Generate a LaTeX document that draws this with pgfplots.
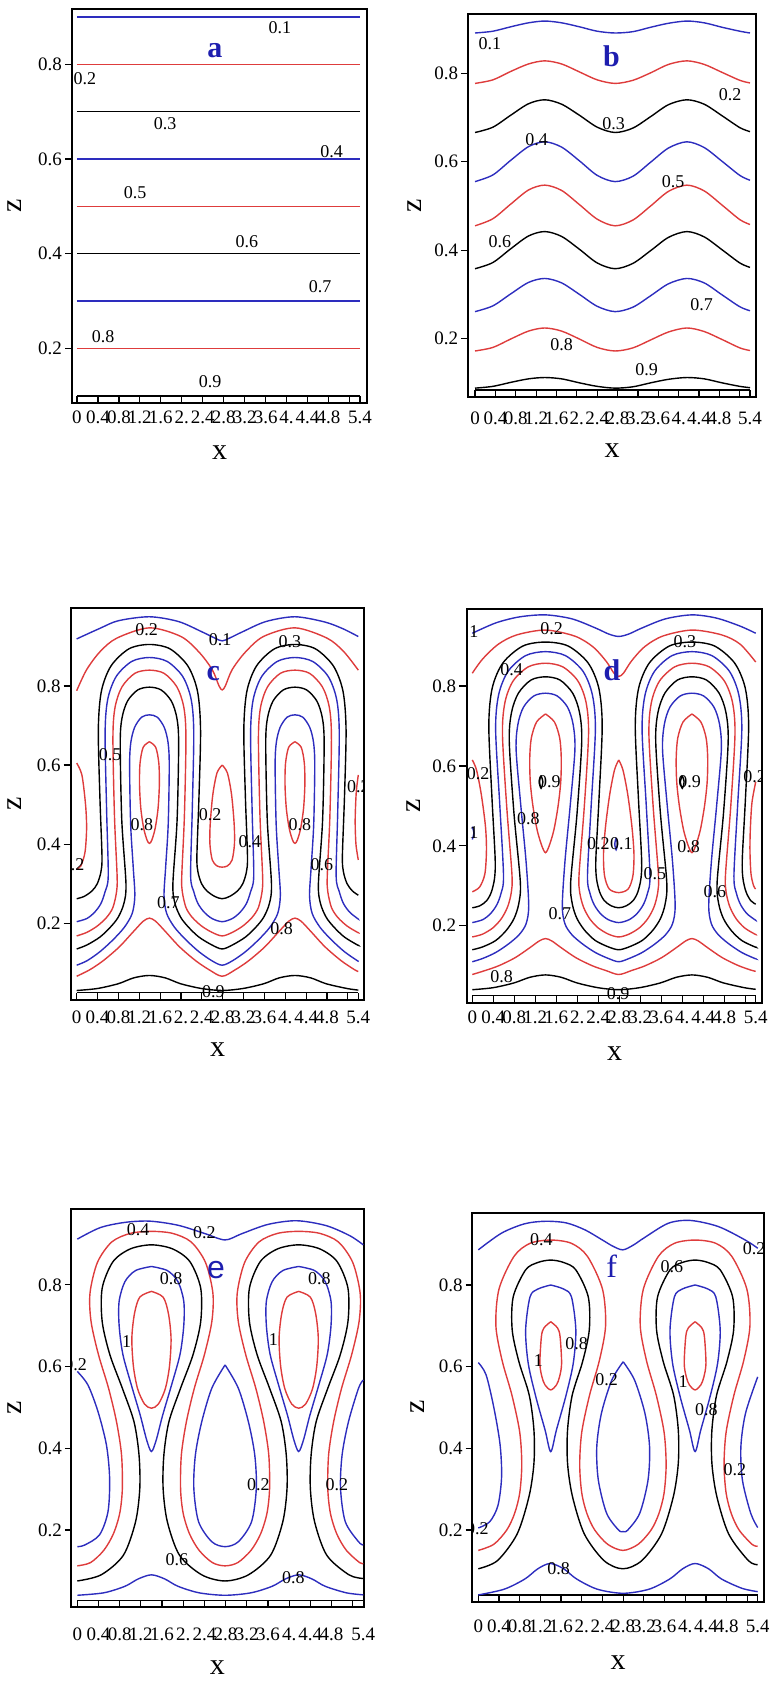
\documentclass[border=0pt]{standalone}
\usepackage{fontspec}
\setmainfont{Liberation Serif}
\newfontfamily\sansf{Liberation Sans}
\usepackage{pgfplots}
\pgfplotsset{compat=1.18}
\usepackage{pgfplotstable}

\definecolor{cblue}{RGB}{45,45,190}
\definecolor{cred}{RGB}{222,60,60}
\definecolor{lblue}{RGB}{30,30,175}

\pgfplotsset{
  cb/.style={cblue, smooth, line width=0.7pt},
  cr/.style={cred, smooth, line width=0.7pt},
  ck/.style={black, smooth, line width=0.7pt},
  % #1 tick label shift, #2 xlabel shift, #3 ylabel shift, #4 tick length
  panel/.style n args={4}{
    scale only axis, anchor=south west,
    axis line style={line width=0.9pt},
    xtick align=inside, ytick align=outside,
    xtick pos=bottom, ytick pos=left,
    major tick length=#4,
    tick style={black, line width=0.6pt},
    xtick={0,0.4,0.8,1.2,1.6,2,2.4,2.8,3.2,3.6,4,4.4,4.8,5.2,5.4},
    xticklabels={0,0.4,0.8,1.2,1.6,2.,2.4,2.8,3.2,3.6,4.,4.4,4.8,,5.4},
    ytick={0.2,0.4,0.6,0.8},
    yticklabels={0.2,0.4,0.6,0.8},
    tick label style={font=\fontsize{9.5}{10}\selectfont},
    xticklabel style={anchor=center, yshift=#1},
    yticklabel style={anchor=east, xshift=2pt},
    xlabel={x}, ylabel={z},
    every axis x label/.style={at={(axis description cs:0.5,0)}, yshift=#2, anchor=center, font=\fontsize{15}{16}\selectfont},
    every axis y label/.style={at={(axis description cs:0,0.5)}, xshift=#3, rotate=90, anchor=center, font=\fontsize{15}{16}\selectfont},
  },
}

\newcommand{\lb}[3]{\node[font=\fontsize{9}{10}\selectfont, inner sep=0pt] at (axis cs:#1,#2) {#3};}
\newcommand{\letter}[3]{\node[font=\fontsize{15}{16}\selectfont\bfseries, text=lblue] at (axis cs:#1,#2) {#3};}

% panel b: sinusoidal contours
\pgfplotstableread{
x    l1    l2    l3    l4    l5    l6    l7    l8    l9
0    0.891 0.777 0.666 0.555 0.455 0.358 0.261 0.172 0.088
0.35 0.895 0.785 0.678 0.570 0.471 0.372 0.274 0.180 0.092
0.7  0.905 0.804 0.705 0.603 0.504 0.403 0.301 0.199 0.101
1.05 0.914 0.821 0.731 0.634 0.536 0.432 0.327 0.217 0.109
1.37 0.918 0.828 0.740 0.645 0.547 0.442 0.336 0.224 0.112
1.7  0.914 0.821 0.730 0.633 0.535 0.431 0.326 0.217 0.109
2.05 0.905 0.803 0.705 0.602 0.503 0.402 0.300 0.199 0.100
2.4  0.895 0.785 0.678 0.569 0.470 0.371 0.273 0.180 0.092
2.75 0.891 0.777 0.666 0.555 0.455 0.358 0.261 0.172 0.088
3.1  0.894 0.784 0.676 0.567 0.468 0.370 0.271 0.179 0.091
3.45 0.904 0.801 0.702 0.599 0.500 0.399 0.297 0.197 0.100
3.8  0.913 0.820 0.729 0.631 0.533 0.429 0.324 0.215 0.108
4.16 0.918 0.828 0.740 0.645 0.547 0.442 0.336 0.224 0.112
4.5  0.914 0.820 0.730 0.632 0.534 0.430 0.326 0.216 0.109
4.85 0.904 0.802 0.704 0.601 0.502 0.401 0.299 0.198 0.100
5.2  0.895 0.784 0.677 0.569 0.469 0.371 0.272 0.179 0.092
5.4  0.891 0.778 0.668 0.558 0.458 0.361 0.263 0.173 0.089
}\tabB

\begin{document}
\begin{tikzpicture}
\path[use as bounding box] (0,0) rectangle (384.5pt,842.5pt);

%% ---------------- a ----------------
\begin{axis}[panel={-7pt}{-25pt}{-28.5pt}{3.5pt},
  at={(36pt,641pt)}, width=147.5pt, height=197pt,
  xmin=-0.095, xmax=5.534, ymin=0.0844, ymax=0.917]
\addplot[cb] coordinates {(0,0.9) (5.4,0.9)};
\addplot[cr] coordinates {(0,0.8) (5.4,0.8)};
\addplot[ck] coordinates {(0,0.7) (5.4,0.7)};
\addplot[cb] coordinates {(0,0.6) (5.4,0.6)};
\addplot[cr] coordinates {(0,0.5) (5.4,0.5)};
\addplot[ck] coordinates {(0,0.4) (5.4,0.4)};
\addplot[cb] coordinates {(0,0.3) (5.4,0.3)};
\addplot[cr] coordinates {(0,0.2) (5.4,0.2)};
\addplot[ck] coordinates {(0,0.0992) (5.4,0.0992)};
\lb{3.87}{0.878}{0.1} \lb{0.15}{0.77}{0.2} \lb{1.68}{0.675}{0.3}
\lb{4.86}{0.616}{0.4} \lb{1.11}{0.528}{0.5} \lb{3.24}{0.425}{0.6}
\lb{4.64}{0.33}{0.7} \lb{0.50}{0.225}{0.8} \lb{2.54}{0.13}{0.9}
\letter{2.63}{0.83}{a}
\end{axis}

%% ---------------- b ----------------
\begin{axis}[panel={-10.5pt}{-27pt}{-26.7pt}{3.5pt},
  at={(234.15pt,644pt)}, width=143.7pt, height=191.5pt,
  xmin=-0.132, xmax=5.512, ymin=0.068, ymax=0.934]
\addplot[cb] table[x=x,y=l1] {\tabB};
\addplot[cr] table[x=x,y=l2] {\tabB};
\addplot[ck] table[x=x,y=l3] {\tabB};
\addplot[cb] table[x=x,y=l4] {\tabB};
\addplot[cr] table[x=x,y=l5] {\tabB};
\addplot[ck] table[x=x,y=l6] {\tabB};
\addplot[cb] table[x=x,y=l7] {\tabB};
\addplot[cr] table[x=x,y=l8] {\tabB};
\addplot[ck] table[x=x,y=l9] {\tabB};
\addplot[black, line width=0.7pt] coordinates {(0,0.084) (5.4,0.084)};
\lb{0.29}{0.868}{0.1} \lb{5.01}{0.751}{0.2} \lb{2.72}{0.687}{0.3}
\lb{1.21}{0.649}{0.4} \lb{3.89}{0.555}{0.5} \lb{0.49}{0.419}{0.6}
\lb{4.45}{0.276}{0.7} \lb{1.70}{0.186}{0.8} \lb{3.37}{0.129}{0.9}
\letter{2.68}{0.838}{b}
\end{axis}

%% ---------------- c ----------------
\begin{axis}[panel={-8.5pt}{-25pt}{-28pt}{3.65pt},
  at={(35.5pt,342.5pt)}, width=146.65pt, height=196.15pt,
  xmin=-0.109, xmax=5.515, ymin=0.006, ymax=0.998]
\addplot[black, line width=0.7pt] coordinates {(0,0.0245) (5.4,0.0245)};
% 0.1
\addplot[cb] coordinates {(0,0.919)(0.45,0.946)(0.8,0.965)(1.395,0.975)(1.95,0.963)(2.4,0.937)(2.65,0.921)(2.79,0.914)(2.93,0.921)(3.18,0.937)(3.63,0.963)(4.185,0.975)(4.75,0.962)(5.1,0.945)(5.4,0.925)};
% 0.2
\addplot[cr] coordinates {(0,0.788)(0.19,0.841)(0.45,0.887)(0.77,0.921)(1.395,0.947)(2.0,0.925)(2.35,0.885)(2.6,0.841)(2.73,0.80)(2.79,0.790)(2.85,0.80)(2.98,0.841)(3.23,0.885)(3.58,0.925)(4.185,0.947)(4.8,0.921)(5.12,0.887)(5.4,0.84)};
% 0.3
\addplot[ck] coordinates {(0,0.262)(0.145,0.268)(0.295,0.282)(0.395,0.30)(0.465,0.33)(0.485,0.37)(0.445,0.52)(0.415,0.69)(0.474,0.787)(0.66,0.851)(1.003,0.894)(1.395,0.905)(1.787,0.894)(2.13,0.851)(2.316,0.787)(2.375,0.69)(2.345,0.52)(2.305,0.37)(2.325,0.33)(2.395,0.30)(2.495,0.282)(2.645,0.268)(2.79,0.262)(2.935,0.268)(3.085,0.282)(3.185,0.30)(3.255,0.33)(3.275,0.37)(3.235,0.52)(3.205,0.69)(3.264,0.787)(3.45,0.851)(3.793,0.894)(4.185,0.905)(4.577,0.894)(4.92,0.851)(5.106,0.787)(5.165,0.69)(5.135,0.52)(5.095,0.37)(5.115,0.33)(5.185,0.30)(5.285,0.282)(5.4,0.271)};
% 0.4
\addplot[cb] coordinates {(0,0.204)(0.195,0.212)(0.345,0.228)(0.465,0.25)(0.545,0.28)(0.605,0.32)(0.575,0.48)(0.545,0.68)(0.595,0.766)(0.758,0.824)(1.055,0.862)(1.395,0.872)(1.735,0.862)(2.033,0.824)(2.195,0.766)(2.245,0.68)(2.215,0.48)(2.185,0.32)(2.245,0.28)(2.325,0.25)(2.445,0.228)(2.595,0.212)(2.79,0.204)(2.985,0.212)(3.135,0.228)(3.255,0.25)(3.335,0.28)(3.395,0.32)(3.365,0.48)(3.335,0.68)(3.385,0.766)(3.548,0.824)(3.845,0.862)(4.185,0.872)(4.525,0.862)(4.823,0.824)(4.985,0.766)(5.035,0.68)(5.005,0.48)(4.975,0.32)(5.035,0.28)(5.115,0.25)(5.235,0.228)(5.385,0.212)(5.4,0.211)};
% 0.5
\addplot[cr] coordinates {(0,0.168)(0.195,0.177)(0.395,0.193)(0.575,0.215)(0.695,0.24)(0.765,0.28)(0.775,0.32)(0.725,0.47)(0.695,0.67)(0.737,0.747)(0.87,0.798)(1.115,0.832)(1.395,0.840)(1.675,0.832)(1.92,0.798)(2.053,0.747)(2.095,0.67)(2.065,0.47)(2.015,0.32)(2.025,0.28)(2.095,0.24)(2.215,0.215)(2.395,0.193)(2.595,0.177)(2.79,0.168)(2.985,0.177)(3.185,0.193)(3.365,0.215)(3.485,0.24)(3.555,0.28)(3.565,0.32)(3.515,0.47)(3.485,0.67)(3.527,0.747)(3.66,0.798)(3.905,0.832)(4.185,0.840)(4.465,0.832)(4.71,0.798)(4.843,0.747)(4.885,0.67)(4.855,0.47)(4.805,0.32)(4.815,0.28)(4.885,0.24)(5.005,0.215)(5.185,0.193)(5.385,0.177)(5.4,0.177)};
% 0.6
\addplot[ck] coordinates {(0,0.135)(0.195,0.145)(0.445,0.165)(0.645,0.19)(0.795,0.215)(0.905,0.25)(0.945,0.30)(0.865,0.46)(0.835,0.655)(0.869,0.719)(0.975,0.762)(1.171,0.790)(1.395,0.797)(1.619,0.790)(1.815,0.762)(1.921,0.719)(1.955,0.655)(1.925,0.46)(1.845,0.30)(1.885,0.25)(1.995,0.215)(2.145,0.19)(2.345,0.165)(2.595,0.145)(2.79,0.135)(2.985,0.145)(3.235,0.165)(3.435,0.19)(3.585,0.215)(3.695,0.25)(3.735,0.30)(3.655,0.46)(3.625,0.655)(3.659,0.719)(3.765,0.762)(3.961,0.790)(4.185,0.797)(4.409,0.790)(4.605,0.762)(4.711,0.719)(4.745,0.655)(4.715,0.46)(4.635,0.30)(4.675,0.25)(4.785,0.215)(4.935,0.19)(5.135,0.165)(5.385,0.145)(5.4,0.145)};
% 0.7
\addplot[cb] coordinates {(0,0.094)(0.195,0.105)(0.445,0.128)(0.695,0.158)(0.915,0.19)(1.065,0.225)(1.115,0.27)(1.085,0.34)(1.035,0.45)(1.015,0.60)(1.038,0.657)(1.11,0.695)(1.243,0.721)(1.395,0.727)(1.547,0.721)(1.68,0.695)(1.752,0.657)(1.775,0.60)(1.755,0.45)(1.705,0.34)(1.675,0.27)(1.725,0.225)(1.875,0.19)(2.095,0.158)(2.345,0.128)(2.595,0.105)(2.79,0.094)(2.985,0.105)(3.235,0.128)(3.485,0.158)(3.705,0.19)(3.855,0.225)(3.905,0.27)(3.875,0.34)(3.825,0.45)(3.805,0.60)(3.828,0.657)(3.9,0.695)(4.033,0.721)(4.185,0.727)(4.337,0.721)(4.47,0.695)(4.542,0.657)(4.565,0.60)(4.545,0.45)(4.495,0.34)(4.465,0.27)(4.515,0.225)(4.665,0.19)(4.885,0.158)(5.135,0.128)(5.385,0.105)(5.4,0.104)};
% 0.8
\addplot[cr] coordinates {(0,0.066)(0.245,0.082)(0.505,0.105)(0.815,0.14)(1.095,0.18)(1.275,0.205)(1.395,0.213)(1.515,0.205)(1.695,0.18)(1.975,0.14)(2.285,0.105)(2.545,0.082)(2.79,0.066)(3.035,0.082)(3.295,0.105)(3.605,0.14)(3.885,0.18)(4.065,0.205)(4.185,0.213)(4.305,0.205)(4.485,0.18)(4.765,0.14)(5.075,0.105)(5.335,0.082)(5.4,0.078)};
\addplot[cr] coordinates {(1.395,0.659)(1.515,0.645)(1.575,0.605)(1.585,0.55)(1.56,0.49)(1.505,0.44)(1.44,0.41)(1.395,0.402)(1.35,0.41)(1.285,0.44)(1.23,0.49)(1.205,0.55)(1.215,0.605)(1.275,0.645)(1.395,0.659)};
\addplot[cr] coordinates {(4.185,0.659)(4.305,0.645)(4.365,0.605)(4.375,0.55)(4.35,0.49)(4.295,0.44)(4.23,0.41)(4.185,0.402)(4.14,0.41)(4.075,0.44)(4.02,0.49)(3.995,0.55)(4.005,0.605)(4.065,0.645)(4.185,0.659)};
% 0.9
\addplot[ck] coordinates {(0,0.03)(0.395,0.035)(0.795,0.047)(1.095,0.062)(1.395,0.068)(1.695,0.062)(1.995,0.047)(2.395,0.035)(2.79,0.03)(3.185,0.035)(3.585,0.047)(3.885,0.062)(4.185,0.068)(4.485,0.062)(4.785,0.047)(5.185,0.035)(5.4,0.031)};
% 0.2 loops
\addplot[cr] coordinates {(2.79,0.60)(2.89,0.58)(2.97,0.525)(3.02,0.45)(3.025,0.40)(2.98,0.36)(2.89,0.345)(2.79,0.342)(2.69,0.345)(2.6,0.36)(2.555,0.40)(2.56,0.45)(2.61,0.525)(2.69,0.58)(2.79,0.60)};
\addplot[cr] coordinates {(0,0.605)(0.1,0.575)(0.17,0.50)(0.19,0.44)(0.16,0.38)(0.08,0.345)(0,0.337)};
\addplot[cr] coordinates {(5.4,0.575)(5.36,0.53)(5.34,0.46)(5.355,0.40)(5.4,0.36)};
\lb{1.34}{0.942}{0.2} \lb{2.75}{0.916}{0.1} \lb{4.09}{0.912}{0.3}
\lb{0.64}{0.626}{0.5} \lb{5.40}{0.546}{0.2} \lb{2.56}{0.474}{0.2}
\lb{1.25}{0.449}{0.8} \lb{4.28}{0.449}{0.8} \lb{3.32}{0.407}{0.4}
\lb{-0.07}{0.347}{0.2} \lb{4.70}{0.347}{0.6} \lb{1.76}{0.251}{0.7}
\lb{3.93}{0.187}{0.8} \lb{2.62}{0.027}{0.9}
\letter{2.62}{0.832}{c}
\end{axis}

%% ---------------- d ----------------
\begin{axis}[panel={-7pt}{-25pt}{-27pt}{4pt},
  at={(233.65pt,340.85pt)}, width=147.2pt, height=197pt,
  xmin=-0.095, xmax=5.514, ymin=0.006, ymax=0.992]
\addplot[black, line width=0.7pt] coordinates {(0,0.026) (5.4,0.026)};
% 0.1
\addplot[cb] coordinates {(0,0.932)(0.45,0.958)(0.9,0.973)(1.395,0.978)(1.9,0.968)(2.35,0.945)(2.6,0.93)(2.79,0.924)(2.98,0.93)(3.23,0.945)(3.68,0.968)(4.185,0.978)(4.65,0.97)(5.1,0.95)(5.4,0.932)};
% 0.2
\addplot[cr] coordinates {(0,0.832)(0.2,0.868)(0.5,0.905)(0.85,0.928)(1.395,0.940)(1.95,0.925)(2.3,0.898)(2.55,0.862)(2.7,0.832)(2.79,0.824)(2.88,0.832)(3.03,0.862)(3.28,0.898)(3.63,0.925)(4.185,0.940)(4.75,0.928)(5.1,0.905)(5.4,0.86)};
% 0.3
\addplot[ck] coordinates {(0,0.245)(0.145,0.25)(0.275,0.263)(0.365,0.285)(0.425,0.32)(0.435,0.37)(0.375,0.52)(0.315,0.70)(0.38,0.795)(0.585,0.858)(0.963,0.90)(1.395,0.91)(1.827,0.90)(2.205,0.858)(2.41,0.795)(2.475,0.70)(2.415,0.52)(2.355,0.37)(2.365,0.32)(2.425,0.285)(2.515,0.263)(2.645,0.25)(2.79,0.245)(2.935,0.25)(3.065,0.263)(3.155,0.285)(3.215,0.32)(3.225,0.37)(3.165,0.52)(3.105,0.70)(3.17,0.795)(3.375,0.858)(3.753,0.90)(4.185,0.91)(4.617,0.90)(4.995,0.858)(5.2,0.795)(5.265,0.70)(5.205,0.52)(5.145,0.37)(5.155,0.32)(5.215,0.285)(5.305,0.263)(5.4,0.254)};
% 0.4
\addplot[cb] coordinates {(0,0.208)(0.195,0.215)(0.345,0.23)(0.465,0.252)(0.545,0.28)(0.595,0.325)(0.525,0.50)(0.445,0.69)(0.502,0.778)(0.683,0.837)(1.015,0.876)(1.395,0.886)(1.775,0.876)(2.108,0.837)(2.288,0.778)(2.345,0.69)(2.265,0.50)(2.195,0.325)(2.245,0.28)(2.325,0.252)(2.445,0.23)(2.595,0.215)(2.79,0.208)(2.985,0.215)(3.135,0.23)(3.255,0.252)(3.335,0.28)(3.385,0.325)(3.315,0.50)(3.235,0.69)(3.292,0.778)(3.473,0.837)(3.805,0.876)(4.185,0.886)(4.565,0.876)(4.898,0.837)(5.078,0.778)(5.135,0.69)(5.055,0.50)(4.985,0.325)(5.035,0.28)(5.115,0.252)(5.235,0.23)(5.385,0.215)(5.4,0.214)};
% 0.5
\addplot[cr] coordinates {(0,0.172)(0.195,0.179)(0.395,0.195)(0.555,0.218)(0.675,0.248)(0.745,0.285)(0.755,0.33)(0.655,0.50)(0.575,0.68)(0.624,0.760)(0.78,0.813)(1.067,0.848)(1.395,0.857)(1.723,0.848)(2.01,0.813)(2.166,0.760)(2.215,0.68)(2.135,0.50)(2.035,0.33)(2.045,0.285)(2.115,0.248)(2.235,0.218)(2.395,0.195)(2.595,0.179)(2.79,0.172)(2.985,0.179)(3.185,0.195)(3.345,0.218)(3.465,0.248)(3.535,0.285)(3.545,0.33)(3.445,0.50)(3.365,0.68)(3.414,0.760)(3.57,0.813)(3.857,0.848)(4.185,0.857)(4.513,0.848)(4.80,0.813)(4.956,0.760)(5.005,0.68)(4.925,0.50)(4.825,0.33)(4.835,0.285)(4.905,0.248)(5.025,0.218)(5.185,0.195)(5.385,0.179)(5.4,0.179)};
% 0.6
\addplot[ck] coordinates {(0,0.14)(0.195,0.147)(0.445,0.163)(0.645,0.188)(0.795,0.218)(0.885,0.255)(0.915,0.31)(0.795,0.48)(0.705,0.66)(0.746,0.733)(0.878,0.782)(1.119,0.815)(1.395,0.823)(1.671,0.815)(1.913,0.782)(2.044,0.733)(2.085,0.66)(1.995,0.48)(1.875,0.31)(1.905,0.255)(1.995,0.218)(2.145,0.188)(2.345,0.163)(2.595,0.147)(2.79,0.14)(2.985,0.147)(3.235,0.163)(3.435,0.188)(3.585,0.218)(3.675,0.255)(3.705,0.31)(3.585,0.48)(3.495,0.66)(3.536,0.733)(3.668,0.782)(3.909,0.815)(4.185,0.823)(4.461,0.815)(4.703,0.782)(4.834,0.733)(4.875,0.66)(4.785,0.48)(4.665,0.31)(4.695,0.255)(4.785,0.218)(4.935,0.188)(5.135,0.163)(5.385,0.147)(5.4,0.147)};
% 0.7
\addplot[cb] coordinates {(0,0.11)(0.195,0.118)(0.445,0.133)(0.695,0.155)(0.895,0.178)(1.025,0.205)(1.075,0.25)(1.025,0.36)(0.925,0.50)(0.835,0.64)(0.869,0.704)(0.975,0.747)(1.171,0.775)(1.395,0.782)(1.619,0.775)(1.815,0.747)(1.921,0.704)(1.955,0.64)(1.865,0.50)(1.765,0.36)(1.715,0.25)(1.765,0.205)(1.895,0.178)(2.095,0.155)(2.345,0.133)(2.595,0.118)(2.79,0.11)(2.985,0.118)(3.235,0.133)(3.485,0.155)(3.685,0.178)(3.815,0.205)(3.865,0.25)(3.815,0.36)(3.715,0.50)(3.625,0.64)(3.659,0.704)(3.765,0.747)(3.961,0.775)(4.185,0.782)(4.409,0.775)(4.605,0.747)(4.711,0.704)(4.745,0.64)(4.655,0.50)(4.555,0.36)(4.505,0.25)(4.555,0.205)(4.685,0.178)(4.885,0.155)(5.135,0.133)(5.385,0.118)(5.4,0.118)};
% 0.8
\addplot[cr] coordinates {(0,0.078)(0.245,0.088)(0.505,0.10)(0.815,0.12)(1.095,0.145)(1.275,0.162)(1.395,0.168)(1.515,0.162)(1.695,0.145)(1.975,0.12)(2.285,0.10)(2.545,0.088)(2.79,0.078)(3.035,0.088)(3.295,0.10)(3.605,0.12)(3.885,0.145)(4.065,0.162)(4.185,0.168)(4.305,0.162)(4.485,0.145)(4.765,0.12)(5.075,0.10)(5.335,0.088)(5.4,0.086)};
\addplot[cr] coordinates {(1.395,0.73)(1.565,0.71)(1.665,0.67)(1.695,0.62)(1.685,0.56)(1.635,0.50)(1.555,0.44)(1.465,0.40)(1.395,0.383)(1.325,0.40)(1.235,0.44)(1.155,0.50)(1.105,0.56)(1.095,0.62)(1.125,0.67)(1.225,0.71)(1.395,0.73)};
\addplot[cr] coordinates {(4.185,0.73)(4.355,0.71)(4.455,0.67)(4.485,0.62)(4.475,0.56)(4.425,0.50)(4.345,0.44)(4.255,0.40)(4.185,0.383)(4.115,0.40)(4.025,0.44)(3.945,0.50)(3.895,0.56)(3.885,0.62)(3.915,0.67)(4.015,0.71)(4.185,0.73)};
% 0.9
\addplot[ck] coordinates {(0,0.04)(0.395,0.045)(0.795,0.057)(1.095,0.071)(1.395,0.077)(1.695,0.071)(1.995,0.057)(2.395,0.045)(2.79,0.04)(3.185,0.045)(3.585,0.057)(3.885,0.071)(4.185,0.077)(4.485,0.071)(4.785,0.057)(5.185,0.045)(5.4,0.041)};
\addplot[ck] coordinates {(1.31,0.576)(1.345,0.56)(1.31,0.544)(1.275,0.56)(1.31,0.576)};
\addplot[ck] coordinates {(4.0,0.576)(4.035,0.56)(4.0,0.544)(3.965,0.56)(4.0,0.576)};
% 0.2 and 0.1 loops
\addplot[cr] coordinates {(2.79,0.615)(2.87,0.59)(2.96,0.53)(3.04,0.45)(3.08,0.38)(3.06,0.325)(2.97,0.292)(2.79,0.283)(2.61,0.292)(2.52,0.325)(2.50,0.38)(2.54,0.45)(2.62,0.53)(2.71,0.59)(2.79,0.615)};
\addplot[cr] coordinates {(0,0.615)(0.08,0.59)(0.17,0.53)(0.25,0.45)(0.27,0.39)(0.24,0.33)(0.14,0.297)(0,0.285)};
\addplot[cr] coordinates {(5.4,0.56)(5.33,0.51)(5.30,0.45)(5.29,0.39)(5.31,0.33)(5.36,0.30)(5.4,0.292)};
\addplot[cb] coordinates {(2.74,0.42)(2.765,0.405)(2.74,0.39)(2.715,0.405)(2.74,0.42)};
\addplot[cb] coordinates {(0,0.448)(0.03,0.432)(0,0.416)};
\lb{-0.10}{0.936}{0.1} \lb{1.51}{0.944}{0.2} \lb{4.05}{0.911}{0.3}
\lb{0.75}{0.84}{0.4} \lb{0.11}{0.58}{0.2} \lb{1.47}{0.56}{0.9}
\lb{4.14}{0.56}{0.9} \lb{5.38}{0.573}{0.2} \lb{1.07}{0.469}{0.8}
\lb{-0.10}{0.432}{0.1} \lb{2.40}{0.405}{0.2} \lb{2.84}{0.405}{0.1}
\lb{4.12}{0.398}{0.8} \lb{3.48}{0.331}{0.5} \lb{4.62}{0.285}{0.6}
\lb{1.67}{0.231}{0.7} \lb{0.56}{0.072}{0.8} \lb{2.78}{0.031}{0.9}
\letter{2.66}{0.84}{d}
\end{axis}

%% ---------------- e ----------------
\begin{axis}[panel={-14pt}{-30.5pt}{-28pt}{3pt},
  at={(35.5pt,39.15pt)}, width=146.5pt, height=198.7pt,
  xmin=-0.119, xmax=5.413, ymin=0.012, ymax=0.985]
\addplot[black, line width=0.7pt] coordinates {(0,0.027) (5.4,0.027)};
% 0.2
\addplot[cb] coordinates {(0,0.912)(0.43,0.94)(0.9,0.953)(1.37,0.956)(1.9,0.946)(2.4,0.926)(2.79,0.91)(3.1,0.925)(3.6,0.948)(4.14,0.957)(4.7,0.945)(5.15,0.92)(5.4,0.898)};
\addplot[cb] coordinates {(2.79,0.604)(3.04,0.547)(3.23,0.465)(3.35,0.384)(3.38,0.302)(3.29,0.22)(3.04,0.171)(2.79,0.159)(2.54,0.171)(2.29,0.22)(2.20,0.302)(2.23,0.384)(2.35,0.465)(2.54,0.547)(2.79,0.604)};
\addplot[cb] coordinates {(0,0.588)(0.2,0.555)(0.39,0.49)(0.55,0.408)(0.61,0.327)(0.58,0.245)(0.42,0.188)(0.14,0.163)(0,0.159)};
\addplot[cb] coordinates {(5.4,0.567)(5.31,0.547)(5.12,0.465)(5.0,0.384)(4.97,0.302)(5.06,0.22)(5.31,0.171)(5.4,0.163)};
% 0.4
\addplot[cr] coordinates {(0,0.112)(0.25,0.12)(0.50,0.15)(0.68,0.19)(0.80,0.24)(0.85,0.30)(0.835,0.384)(0.74,0.465)(0.59,0.547)(0.40,0.629)(0.26,0.71)(0.24,0.78)(0.38,0.855)(0.65,0.905)(1.00,0.926)(1.40,0.931)(1.80,0.926)(2.15,0.905)(2.42,0.855)(2.56,0.78)(2.54,0.71)(2.40,0.629)(2.21,0.547)(2.06,0.465)(1.965,0.384)(1.95,0.30)(2.00,0.24)(2.12,0.19)(2.30,0.15)(2.55,0.12)(2.79,0.112)(3.03,0.12)(3.28,0.15)(3.46,0.19)(3.58,0.24)(3.63,0.30)(3.615,0.384)(3.52,0.465)(3.37,0.547)(3.18,0.629)(3.04,0.71)(3.02,0.78)(3.16,0.855)(3.43,0.905)(3.78,0.926)(4.18,0.931)(4.58,0.926)(4.93,0.905)(5.20,0.855)(5.34,0.78)(5.32,0.71)(5.18,0.629)(4.99,0.547)(4.84,0.465)(4.745,0.384)(4.73,0.30)(4.78,0.24)(4.90,0.19)(5.08,0.15)(5.33,0.12)(5.4,0.118)};
% 0.6
\addplot[ck] coordinates {(0,0.075)(0.45,0.09)(0.87,0.138)(1.10,0.22)(1.18,0.302)(1.165,0.384)(1.07,0.465)(0.85,0.547)(0.615,0.629)(0.47,0.71)(0.47,0.792)(0.675,0.857)(1.00,0.888)(1.40,0.898)(1.80,0.888)(2.125,0.857)(2.33,0.792)(2.33,0.71)(2.185,0.629)(1.95,0.547)(1.73,0.465)(1.635,0.384)(1.62,0.302)(1.70,0.22)(1.93,0.138)(2.35,0.09)(2.79,0.075)(3.23,0.09)(3.65,0.138)(3.88,0.22)(3.96,0.302)(3.945,0.384)(3.85,0.465)(3.63,0.547)(3.395,0.629)(3.25,0.71)(3.25,0.792)(3.455,0.857)(3.78,0.888)(4.18,0.898)(4.58,0.888)(4.905,0.857)(5.11,0.792)(5.11,0.71)(4.965,0.629)(4.73,0.547)(4.51,0.465)(4.415,0.384)(4.40,0.302)(4.48,0.22)(4.71,0.138)(5.13,0.09)(5.4,0.081)};
% 0.8
\addplot[cb] coordinates {(1.40,0.845)(1.70,0.835)(1.90,0.808)(2.01,0.76)(2.01,0.70)(1.94,0.63)(1.78,0.555)(1.61,0.48)(1.49,0.42)(1.40,0.392)(1.31,0.42)(1.19,0.48)(1.02,0.555)(0.86,0.63)(0.79,0.70)(0.79,0.76)(0.90,0.808)(1.10,0.835)(1.40,0.845)};
\addplot[cb] coordinates {(4.18,0.845)(4.48,0.835)(4.68,0.808)(4.79,0.76)(4.79,0.70)(4.72,0.63)(4.56,0.555)(4.39,0.48)(4.27,0.42)(4.18,0.392)(4.09,0.42)(3.97,0.48)(3.80,0.555)(3.64,0.63)(3.57,0.70)(3.57,0.76)(3.68,0.808)(3.88,0.835)(4.18,0.845)};
\addplot[cb] coordinates {(0,0.04)(0.5,0.046)(0.9,0.062)(1.15,0.08)(1.4,0.09)(1.65,0.08)(1.9,0.062)(2.3,0.046)(2.79,0.04)(3.28,0.046)(3.68,0.062)(3.93,0.08)(4.18,0.09)(4.43,0.08)(4.68,0.062)(5.08,0.046)(5.4,0.041)};
% 1
\addplot[cr] coordinates {(1.40,0.784)(1.62,0.77)(1.72,0.73)(1.77,0.669)(1.74,0.60)(1.66,0.545)(1.53,0.508)(1.40,0.498)(1.27,0.508)(1.14,0.545)(1.06,0.60)(1.03,0.669)(1.08,0.73)(1.18,0.77)(1.40,0.784)};
\addplot[cr] coordinates {(4.18,0.784)(4.40,0.77)(4.50,0.73)(4.55,0.669)(4.52,0.60)(4.44,0.545)(4.31,0.508)(4.18,0.498)(4.05,0.508)(3.92,0.545)(3.84,0.60)(3.81,0.669)(3.86,0.73)(3.96,0.77)(4.18,0.784)};
\lb{1.15}{0.935}{0.4} \lb{2.40}{0.927}{0.2} \lb{1.77}{0.816}{0.8}
\lb{4.57}{0.816}{0.8} \lb{0.93}{0.661}{1} \lb{3.70}{0.665}{1}
\lb{-0.03}{0.604}{0.2} \lb{3.42}{0.31}{0.2} \lb{4.9}{0.31}{0.2}
\lb{1.88}{0.127}{0.6} \lb{4.08}{0.082}{0.8}
\node[font=\fontsize{16}{17}\selectfont\sansf, text=lblue] at (axis cs:2.62,0.837) {e};
\end{axis}

%% ---------------- f ----------------
\begin{axis}[panel={-12.5pt}{-30.5pt}{-27.5pt}{3.35pt},
  at={(236.15pt,41.65pt)}, width=145.7pt, height=194.5pt,
  xmin=-0.116, xmax=5.516, ymin=0.0244, ymax=0.977]
\addplot[black, line width=0.7pt] coordinates {(0,0.041) (5.4,0.041)};
% 0.2
\addplot[cb] coordinates {(0,0.886)(0.45,0.927)(0.9,0.95)(1.3,0.956)(1.7,0.952)(2.06,0.935)(2.4,0.91)(2.6,0.895)(2.795,0.886)(3.0,0.898)(3.2,0.915)(3.67,0.951)(4.1,0.958)(4.64,0.943)(5.16,0.91)(5.4,0.89)};
\addplot[cb] coordinates {(2.80,0.612)(3.02,0.567)(3.22,0.486)(3.31,0.404)(3.28,0.322)(3.12,0.241)(2.89,0.2)(2.80,0.196)(2.71,0.2)(2.48,0.241)(2.32,0.322)(2.29,0.404)(2.38,0.486)(2.58,0.567)(2.80,0.612)};
\addplot[cb] coordinates {(0,0.61)(0.15,0.58)(0.3,0.50)(0.42,0.41)(0.45,0.33)(0.38,0.26)(0.22,0.22)(0,0.205)};
\addplot[cb] coordinates {(5.4,0.575)(5.165,0.486)(5.075,0.404)(5.105,0.322)(5.265,0.241)(5.4,0.206)};
% 0.4
\addplot[cr] coordinates {(0,0.15)(0.30,0.165)(0.55,0.2)(0.70,0.24)(0.80,0.29)(0.84,0.36)(0.80,0.44)(0.65,0.53)(0.46,0.615)(0.34,0.70)(0.40,0.79)(0.69,0.87)(1.00,0.902)(1.40,0.91)(1.80,0.902)(2.11,0.87)(2.40,0.79)(2.46,0.70)(2.34,0.615)(2.15,0.53)(2.00,0.44)(1.96,0.36)(2.00,0.29)(2.10,0.24)(2.25,0.2)(2.50,0.165)(2.795,0.15)(3.09,0.165)(3.34,0.2)(3.49,0.24)(3.59,0.29)(3.63,0.36)(3.59,0.44)(3.44,0.53)(3.25,0.615)(3.13,0.70)(3.19,0.79)(3.48,0.87)(3.79,0.902)(4.19,0.91)(4.59,0.902)(4.90,0.87)(5.19,0.79)(5.25,0.70)(5.13,0.615)(4.94,0.53)(4.79,0.44)(4.75,0.36)(4.79,0.29)(4.89,0.24)(5.04,0.2)(5.29,0.165)(5.4,0.16)};
% 0.6
\addplot[ck] coordinates {(0,0.105)(0.37,0.125)(0.75,0.19)(0.98,0.282)(1.075,0.363)(1.075,0.445)(0.985,0.53)(0.785,0.612)(0.655,0.69)(0.675,0.771)(0.915,0.837)(1.15,0.855)(1.40,0.861)(1.65,0.855)(1.885,0.837)(2.125,0.771)(2.145,0.69)(2.015,0.612)(1.815,0.53)(1.725,0.445)(1.725,0.363)(1.82,0.282)(2.05,0.19)(2.43,0.125)(2.795,0.105)(3.16,0.125)(3.54,0.19)(3.77,0.282)(3.865,0.363)(3.865,0.445)(3.775,0.53)(3.575,0.612)(3.445,0.69)(3.465,0.771)(3.705,0.837)(3.94,0.855)(4.19,0.861)(4.44,0.855)(4.675,0.837)(4.915,0.771)(4.935,0.69)(4.805,0.612)(4.605,0.53)(4.515,0.445)(4.515,0.363)(4.61,0.282)(4.84,0.19)(5.22,0.125)(5.4,0.115)};
% 0.8
\addplot[cb] coordinates {(1.40,0.80)(1.65,0.79)(1.80,0.771)(1.885,0.69)(1.835,0.608)(1.69,0.527)(1.51,0.445)(1.40,0.392)(1.29,0.445)(1.11,0.527)(0.965,0.608)(0.915,0.69)(1.00,0.771)(1.15,0.79)(1.40,0.80)};
\addplot[cb] coordinates {(4.19,0.80)(4.44,0.79)(4.59,0.771)(4.675,0.69)(4.625,0.608)(4.48,0.527)(4.30,0.445)(4.19,0.392)(4.08,0.445)(3.90,0.527)(3.755,0.608)(3.705,0.69)(3.79,0.771)(3.94,0.79)(4.19,0.80)};
\addplot[cb] coordinates {(0,0.041)(0.5,0.055)(0.9,0.08)(1.15,0.105)(1.39,0.118)(1.65,0.105)(1.9,0.08)(2.3,0.055)(2.8,0.045)(3.3,0.055)(3.7,0.08)(3.95,0.105)(4.19,0.118)(4.45,0.105)(4.7,0.08)(5.1,0.057)(5.4,0.049)};
% 1
\addplot[cr] coordinates {(1.40,0.71)(1.53,0.695)(1.58,0.674)(1.61,0.608)(1.57,0.575)(1.51,0.555)(1.40,0.543)(1.29,0.555)(1.23,0.575)(1.19,0.608)(1.22,0.674)(1.27,0.695)(1.40,0.71)};
\addplot[cr] coordinates {(4.19,0.71)(4.32,0.695)(4.37,0.674)(4.40,0.608)(4.36,0.575)(4.30,0.555)(4.19,0.543)(4.08,0.555)(4.02,0.575)(3.98,0.608)(4.01,0.674)(4.06,0.695)(4.19,0.71)};
\lb{1.22}{0.91}{0.4} \lb{5.33}{0.89}{0.2} \lb{3.74}{0.845}{0.6}
\lb{1.90}{0.657}{0.8} \lb{1.16}{0.616}{1} \lb{2.48}{0.567}{0.2}
\lb{3.96}{0.563}{1} \lb{4.41}{0.494}{0.8} \lb{4.96}{0.347}{0.2}
\lb{-0.02}{0.203}{0.2} \lb{1.55}{0.106}{0.8}
\node[font=\fontsize{16}{17}\selectfont, text=lblue] at (axis cs:2.58,0.845) {f};
\end{axis}
\end{tikzpicture}
\end{document}
